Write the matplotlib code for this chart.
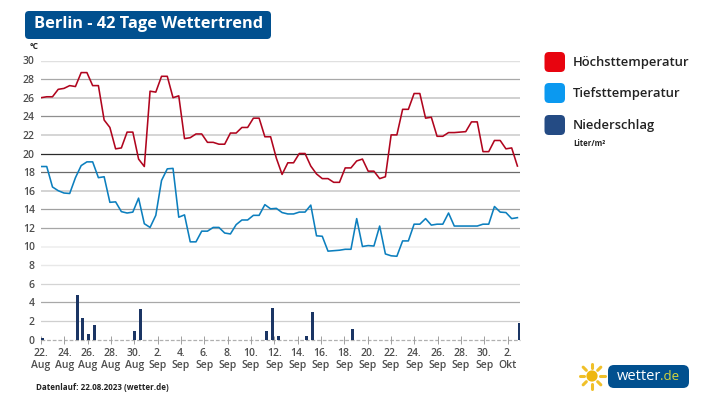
import numpy as np
import matplotlib
matplotlib.use("Agg")
import matplotlib.pyplot as plt
from matplotlib.patches import FancyBboxPatch, Circle

plt.rcParams["font.family"] = ["Open Sans", "DejaVu Sans"]

# ---------------------------
# Data, two values per day
# ---------------------------
high = [26.0, 26.1, 26.1, 26.9, 27.0, 27.3, 27.2, 28.7, 28.7, 27.3, 27.3, 23.6,
        22.8, 20.5, 20.6, 22.3, 22.3, 19.4, 18.6, 26.7, 26.6, 28.3, 28.3, 26.0,
        26.2, 21.6, 21.7, 22.1, 22.1, 21.2, 21.2, 21.0, 21.0, 22.2, 22.2, 22.8,
        22.8, 23.8, 23.8, 21.8, 21.8, 19.5, 17.75, 19.0, 19.0, 20.0, 20.0, 18.65,
        17.8, 17.3, 17.3, 16.9, 16.9, 18.45, 18.45, 19.2, 19.4, 18.1, 18.1, 17.3,
        17.5, 22.0, 22.0, 24.75, 24.75, 26.45, 26.45, 23.8, 23.9, 21.85, 21.85, 22.25,
        22.25, 22.3, 22.35, 23.4, 23.4, 20.2, 20.2, 21.4, 21.4, 20.5, 20.6, 18.65]

low = [18.6, 18.6, 16.4, 16.0, 15.75, 15.7, 17.4, 18.7, 19.1, 19.1, 17.4, 17.5,
       14.75, 14.8, 13.75, 13.6, 13.7, 15.2, 12.45, 12.05, 13.35, 17.1, 18.35, 18.4,
       13.15, 13.4, 10.5, 10.5, 11.65, 11.65, 12.05, 12.05, 11.45, 11.35, 12.35, 12.85,
       12.85, 13.35, 13.35, 14.5, 14.05, 14.1, 13.65, 13.5, 13.5, 13.7, 13.7, 14.45,
       11.15, 11.1, 9.5, 9.55, 9.6, 9.7, 9.7, 13.0, 10.0, 10.1, 10.05, 12.2,
       9.2, 9.0, 8.95, 10.6, 10.6, 12.4, 12.4, 13.0, 12.3, 12.4, 12.4, 13.6,
       12.2, 12.2, 12.2, 12.2, 12.2, 12.4, 12.4, 14.3, 13.7, 13.65, 13.0, 13.1]

rain = [0.2, 0, 0, 0, 0, 0, 4.8, 2.3, 0.55, 1.6, 0, 0,
        0, 0, 0, 0, 0.9, 3.25, 0, 0, 0, 0, 0, 0,
        0, 0, 0, 0, 0, 0, 0, 0, 0, 0, 0, 0,
        0, 0, 0, 0.9, 3.35, 0.35, 0, 0, 0, 0, 0.35, 3.0,
        0, 0, 0, 0, 0, 0, 1.1, 0, 0, 0, 0, 0,
        0, 0, 0, 0, 0, 0, 0, 0, 0, 0, 0, 0,
        0, 0, 0, 0, 0, 0, 0, 0, 0, 0, 0, 1.75]

tick_days = ["22.", "24.", "26.", "28.", "30.", "2.", "4.", "6.", "8.", "10.", "12.",
             "14.", "16.", "18.", "20.", "22.", "24.", "26.", "28.", "30.", "2."]
tick_months = ["Aug"] * 5 + ["Sep"] * 15 + ["Okt"]

y_ticks = list(range(0, 31, 2))
grid_colors = ["#c4c4c4", "#cfcfcf", "#a8a8a8", "#d4d4d4", "#e8e8e8", "#efefef", "#a6a6a6", "#a0a0a0",
               "#d0d0d0", "#6a6a6a", "#2a2a2a", "#d2d2d2", "#8f8f8f", "#cdcdcd", "#a8a8a8", "#e0e0e0"]
grid_widths = [0.9, 0.9, 0.9, 0.9, 1.0, 1.2, 0.9, 0.9,
               1.3, 0.9, 0.9, 1.3, 0.9, 1.3, 0.9, 1.0]

W, H = 717, 403
fig = plt.figure(figsize=(W / 100, H / 100), dpi=100, facecolor="white")

# ---------------------------
# Chart
# ---------------------------
ax = fig.add_axes([41 / W, 1 - 339.5 / H, (520 - 41) / W, (339.5 - 60.5) / H])
ax.set_xlim(0, 83.45)
ax.set_ylim(0, 30)
for s in ax.spines.values():
    s.set_visible(False)

for v, c, w in zip(y_ticks, grid_colors, grid_widths):
    if v == 0:
        ax.plot([0, 83.45], [0, 0], color="#b0b0b0", lw=w, ls=(0, (3, 1.5)), zorder=1, clip_on=False)
    else:
        ax.axhline(v, color=c, lw=w, zorder=1)

idx = np.arange(len(high))
ax.plot(idx, high, color="#b0051e", lw=1.15, solid_joinstyle="round", zorder=3)
ax.plot(idx, low, color="#0c7fbe", lw=1.15, solid_joinstyle="round", zorder=3)
rain_arr = np.array(rain)
ax.bar(idx[rain_arr > 0] + 0.3, rain_arr[rain_arr > 0], width=0.52, color="#1b3564", zorder=4)

ax.set_yticks(y_ticks)
ax.set_yticklabels([str(v) for v in y_ticks], fontsize=7.5, color="#4d4d4d", fontweight="semibold")
ax.tick_params(axis="y", length=0, pad=4.5)

ax.set_xticks(np.arange(len(tick_days)) * 23.33 / 5.74)
ax.set_xticklabels([d + "\n" + m for d, m in zip(tick_days, tick_months)],
                   fontsize=7.5, color="#4d4d4d", fontweight="semibold", linespacing=1.12)
ax.tick_params(axis="x", direction="inout", length=6, width=0.7, color="#a0a0a0", pad=3.2)

# ---------------------------
# Overlay in pixel coordinates: title, legend, logo
# ---------------------------
ov = fig.add_axes([0, 0, 1, 1], facecolor="none")
ov.set_xlim(0, W)
ov.set_ylim(H, 0)
ov.axis("off")


def rounded(x0, y0, x1, y1, r, color):
    ov.add_patch(FancyBboxPatch((x0 + r, y0 + r), x1 - x0 - 2 * r, y1 - y0 - 2 * r,
                                boxstyle="round,pad=%g,rounding_size=%g" % (r, r),
                                fc=color, ec="none"))


rounded(25, 11, 271, 39, 4, "#01508f")
ov.text(148.5, 24.5, "Berlin - 42 Tage Wettertrend", color="white", fontsize=11.8, fontweight="bold",
        ha="center", va="center")
ov.text(30, 46.5, "°C", color="#222222", fontsize=6, fontweight="bold", va="center")

legend = [("Höchsttemperatur", "#e8040f", 62), ("Tiefsttemperatur", "#0b99f0", 93), ("Niederschlag", "#244b84", 125)]
for name, col, yc in legend:
    rounded(544.5, yc - 10, 565, yc + 10, 4.5, col)
    ov.text(573, yc + 0.5, name, color="#222222", fontsize=9.4, fontweight="semibold", va="center")
ov.text(573, 144, "Liter/m²", color="#222222", fontsize=5.6, fontweight="bold", va="center")

ov.text(35.5, 387, "Datenlauf: 22.08.2023 (wetter.de)", color="#222222", fontsize=5.8,
        fontweight="bold", va="center")

# sun
ov.add_patch(Circle((592, 376), 5.6, fc="#eeb70f", ec="none"))
for a in np.arange(0, 360, 45):
    ca, sa = np.cos(np.radians(a)), np.sin(np.radians(a))
    ov.plot([592 + 8 * ca, 592 + 12.5 * ca], [376 + 8 * sa, 376 + 12.5 * sa],
            color="#f0c02a", lw=2.2, solid_capstyle="round")

rounded(608, 365, 689, 388, 6, "#01508f")
ov.text(617, 376, "wetter", color="white", fontsize=10.5, va="center")
ov.text(660, 377, ".de", color="#d8d63a", fontsize=9.5, va="center")

fig.savefig("out.png", dpi=100)
